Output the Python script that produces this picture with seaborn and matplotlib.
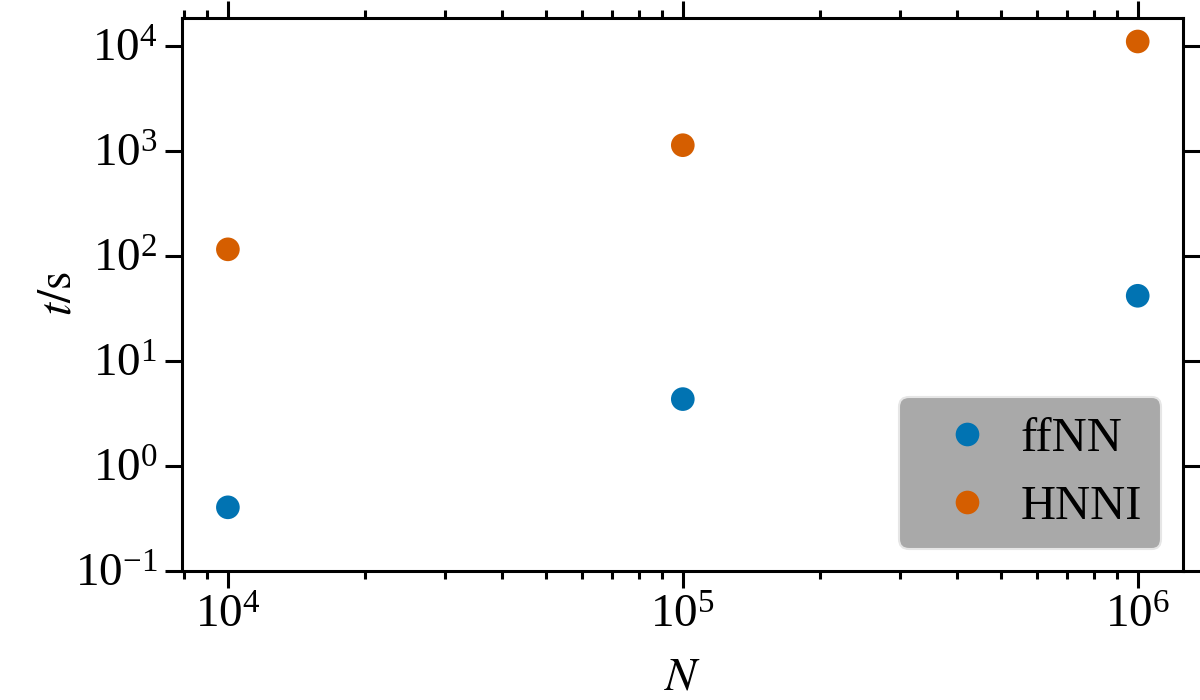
import seaborn as sns
import matplotlib.pyplot as plt
import matplotlib.ticker as mticker
import pandas as pd

# sample sizes
n_vals = [1e4, 1e5, 1e6]

# runtimes in seconds
t_ffnn = [0.40, 4.3, 41.5]
t_hnni = [115, 1130, 11000]

methods = ['ffNN', 'HNNI']

df = pd.DataFrame({
    'N': n_vals * 2,
    't': t_ffnn + t_hnni,
    'method': [methods[0]] * 3 + [methods[1]] * 3,
})

sns.set_style('ticks')
plt.rcParams['font.family'] = ['Liberation Serif', 'DejaVu Serif']
plt.rcParams['mathtext.fontset'] = 'stix'
for key in ['text.color', 'axes.labelcolor', 'xtick.color', 'ytick.color', 'axes.edgecolor']:
    plt.rcParams[key] = 'black'

fig, ax = plt.subplots(figsize=(12, 7), dpi=100)
sns.scatterplot(data=df, x='N', y='t', hue='method', palette=['#0173B2', '#D55E00'],
                s=290, edgecolor='none', ax=ax)

ax.set_xscale('log')
ax.set_yscale('log')
ax.set_ylim(0.1, 10 ** 4.27)
ax.set_xlim(10 ** 3.9, 10 ** 6.1)

ax.set_xlabel('$N$', fontsize=34, labelpad=14)
ax.set_ylabel('$t/\\mathrm{s}$', fontsize=34, labelpad=-4)

ax.yaxis.set_major_locator(mticker.LogLocator(base=10, numticks=12))
ax.yaxis.set_minor_locator(mticker.NullLocator())
ax.tick_params(which='both', direction='out', top=True, right=True, width=2.2, labelsize=34)
ax.tick_params(which='major', length=12, pad=6)
ax.tick_params(which='minor', length=6)
for sp in ax.spines.values():
    sp.set_linewidth(2.2)

leg = ax.legend(loc='lower right', fontsize=35, frameon=True, facecolor='#a9a9a9',
                framealpha=1, edgecolor='#e6e6e6', handletextpad=0.1, borderpad=0.4,
                markerscale=1.0, borderaxespad=0.45)
leg.get_frame().set_linewidth(1.5)

plt.subplots_adjust(left=0.152, right=0.986, top=0.975, bottom=0.185)
plt.savefig('out.png', dpi=100)
